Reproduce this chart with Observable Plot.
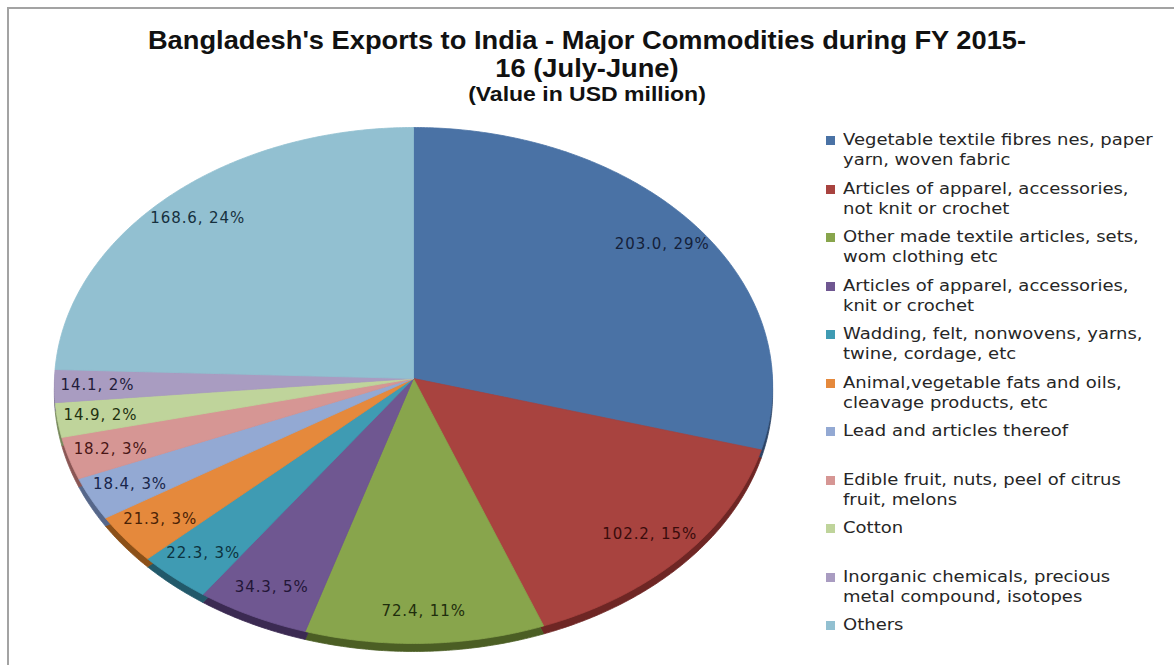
<!DOCTYPE html>
<html>
<head>
<meta charset="utf-8">
<script src="https://cdn.jsdelivr.net/npm/d3@7"></script>
<script src="https://cdn.jsdelivr.net/npm/@observablehq/plot@0.6"></script>
<style>
  html, body { margin: 0; padding: 0; background: #fff; }
  #wrap { position: relative; width: 1174px; height: 665px; overflow: hidden; background: #fff; }
  #border { position: absolute; left: 7px; top: 7px; width: 1200px; height: 700px;
            border-top: 2px solid #a3a3a3; border-left: 2px solid #a3a3a3; }
  #chart { position: absolute; left: 0; top: 0; }
  #title { position: absolute; left: 0; width: 1174px; top: 26px; text-align: center;
           font-family: "Liberation Sans", Arial, sans-serif; font-weight: bold; color: #111; }
  #title .l { display: block; transform-origin: 587px 0; }
  #legend { position: absolute; left: 826px; top: 130px; font-family: "DejaVu Sans", sans-serif;
            font-size: 15px; color: #262626; }
  .item { position: relative; height: 48.5px; }
  .sw { position: absolute; left: 0; top: 6px; width: 9px; height: 9px; }
  .tx { position: absolute; left: 17px; top: 0; white-space: pre; line-height: 20px;
        transform: scaleX(1.2); transform-origin: 0 0; }
</style>
</head>
<body>
<div id="wrap">
  <div id="border"></div>
  <div id="chart"></div>
  <div id="title"></div>
  <div id="legend"></div>
</div>
<script>
// ---- data ----
const categories = [
  "Vegetable textile fibres nes, paper\nyarn, woven fabric",
  "Articles of apparel, accessories,\nnot knit or crochet",
  "Other made textile articles, sets,\nwom clothing etc",
  "Articles of apparel, accessories,\nknit or crochet",
  "Wadding, felt, nonwovens, yarns,\ntwine, cordage, etc",
  "Animal,vegetable fats and oils,\ncleavage products, etc",
  "Lead and articles thereof",
  "Edible fruit, nuts, peel of citrus\nfruit, melons",
  "Cotton",
  "Inorganic chemicals, precious\nmetal compound, isotopes",
  "Others"
];
const values = [203.0, 102.2, 72.4, 34.3, 22.3, 21.3, 18.4, 18.2, 14.9, 14.1, 168.6];
const percentLabels = ["29%", "15%", "11%", "5%", "3%", "3%", "3%", "3%", "2%", "2%", "24%"];
const sliceColors = ["#4a72a5", "#a8433f", "#88a54c", "#6f5791", "#3f9bb3", "#e5893c",
                     "#93a9d3", "#d69694", "#bfd49b", "#a99cc1", "#92c0d1"];
const sideColors  = ["#2c4466", "#6e2624", "#4b5e24", "#3b2a52", "#22596a", "#8c5018",
                     "#56678a", "#8a5654", "#76885a", "#665a7c", "#56808e"];
const labelColors = ["#14213a", "#3a0c0c", "#1f2e0c", "#231637", "#0d3340", "#4a2206",
                     "#18254a", "#4a1616", "#223010", "#231c3a", "#16303e"];
const titleLines = ["Bangladesh's Exports to India - Major Commodities during FY 2015-", "16 (July-June)"];
const subtitle = "(Value in USD million)";

// ---- geometry (tilted pie, slight perspective) ----
const k = 0.0271; // perspective factor: far side (top) slightly smaller
const proj = (a, r) => {
  const ux = r * Math.sin(a), uy = r * Math.cos(a);
  const w = 1 + k * uy;
  return {x: ux / w, y: uy / w};
};
const arcs = d3.pie().sort(null).value(d => d)(values);
const polys = [];
arcs.forEach((a, i) => {
  const c = proj(0, 0);
  polys.push({i, ...c});
  const n = Math.max(2, Math.ceil((a.endAngle - a.startAngle) / (Math.PI / 360)));
  for (let j = 0; j <= n; j++) {
    const t = a.startAngle + (a.endAngle - a.startAngle) * j / n;
    polys.push({i, ...proj(t, 1)});
  }
  polys.push({i, ...c});
});
const labels = arcs.map((a, i) => ({
  i, ...proj((a.startAngle + a.endAngle) / 2, 0.88),
  text: values[i].toFixed(1) + ", " + percentLabels[i]
}));

const chart = Plot.plot({
  width: 1174,
  height: 665,
  margin: 0,
  x: {domain: [-1, 1], range: [54, 772], axis: null},
  y: {domain: [-1, 1], range: [635.8, 120.2], axis: null},
  style: {background: "transparent", fontFamily: "DejaVu Sans, sans-serif", letterSpacing: "0.9px"},
  marks: [
    Plot.line(polys, {x: "x", y: "y", z: "i", dy: 8,
      fill: d => sideColors[d.i], stroke: d => sideColors[d.i], strokeWidth: 0.8}),
    Plot.line(polys, {x: "x", y: "y", z: "i",
      fill: d => sliceColors[d.i], stroke: d => sliceColors[d.i], strokeWidth: 0.8}),
    Plot.text(labels, {x: "x", y: "y", text: "text", fontSize: 15,
      fill: d => labelColors[d.i]})
  ]
});
document.getElementById("chart").appendChild(chart);

// ---- title ----
const title = document.getElementById("title");
titleLines.forEach(t => {
  const s = document.createElement("span");
  s.className = "l"; s.textContent = t;
  s.style.fontSize = "25px"; s.style.lineHeight = "28px";
  s.style.transform = "scaleX(1.09)";
  title.appendChild(s);
});
const sub = document.createElement("span");
sub.className = "l"; sub.textContent = subtitle;
sub.style.fontSize = "20px"; sub.style.lineHeight = "25px";
sub.style.transform = "scaleX(1.15)";
title.appendChild(sub);

// ---- legend ----
const legend = document.getElementById("legend");
categories.forEach((c, i) => {
  const it = document.createElement("div"); it.className = "item";
  const sw = document.createElement("div"); sw.className = "sw"; sw.style.background = sliceColors[i];
  const tx = document.createElement("div"); tx.className = "tx"; tx.textContent = c;
  it.appendChild(sw); it.appendChild(tx); legend.appendChild(it);
});
</script>
</body>
</html>
